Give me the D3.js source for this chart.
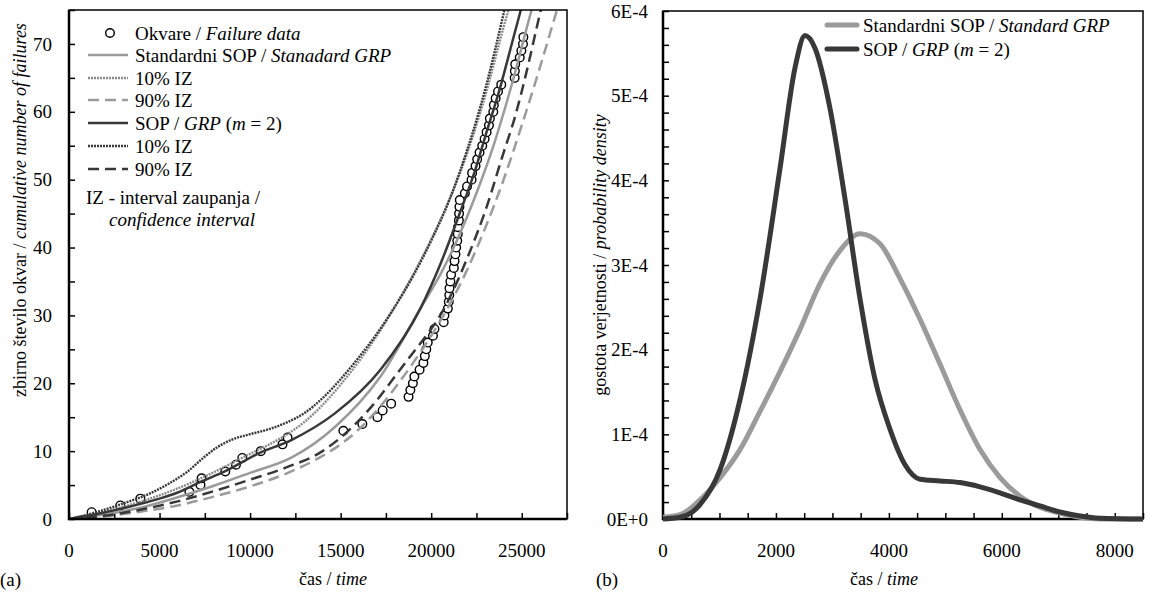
<!DOCTYPE html>
<html>
<head>
<meta charset="utf-8">
<script src="https://cdn.jsdelivr.net/npm/d3@7"></script>
<style>
  body { margin: 0; background: #fff; }
  text { font-family: "Liberation Serif", "Times New Roman", Times, serif; fill: #000; }
</style>
</head>
<body>
<svg id="chart" width="1149" height="600" font-family="Liberation Serif, serif"></svg>
<script>
// ---------- panel (a): cumulative failures ----------
const failT = [1250, 2830, 3940, 6650, 7260, 7320, 8630, 9220, 9570, 10590, 11790, 12070, 15150, 16200, 17030, 17320,
  17790, 18750, 18850, 18990, 19070, 19360, 19570, 19650, 19730, 19810, 20100, 20180, 20690, 20730, 20920, 20970,
  21000, 21010, 21060, 21100, 21250, 21290, 21340, 21380, 21440, 21470, 21480, 21530, 21540, 21560, 21580, 21860,
  21980, 22230, 22260, 22450, 22540, 22670, 22820, 22950, 23060, 23190, 23240, 23430, 23460, 23560, 23690, 23870,
  24610, 24620, 24640, 24890, 24980, 25070, 25090]
const failN = [1, 2, 3, 4, 5, 6, 7, 8, 9, 10, 11, 12, 13, 14, 15, 16, 17, 18, 19, 20, 21, 22, 23, 24, 25, 26, 27, 28,
  29, 30, 31, 32, 33, 34, 35, 36, 37, 38, 39, 40, 41, 42, 43, 44, 45, 46, 47, 48, 49, 50, 51, 52, 53, 54, 55, 56,
  57, 58, 59, 60, 61, 62, 63, 64, 65, 66, 67, 68, 69, 70, 71]

const stdT = [0, 2000, 4000, 6000, 8000, 10000, 12250, 14700, 17200, 19400, 20500, 21500, 22500, 23500, 24500, 25600, 26000]
const stdN = [0, 0.7, 1.7, 3.2, 4.9, 6.8, 9.0, 13.6, 21, 31, 36, 41.5, 48, 55.5, 64.5, 75.5, 79]
const std10T = [0, 2000, 4000, 6000, 8000, 10000, 11000, 12000, 13000, 14000, 15000, 16000, 17000, 18000, 19000, 20000, 21000, 22000, 23000, 24000, 24600]
const std10N = [0, 1.1, 2.6, 4.5, 6.9, 9.6, 10.9, 12.4, 14.3, 16.8, 19.8, 23.2, 27.0, 31.3, 36.0, 41.2, 47.0, 54, 62.5, 72.5, 78]
const std90T = [0, 2000, 4000, 6000, 8000, 10000, 12000, 14000, 15000, 16000, 17000, 18000, 19000, 20000, 21000, 22000, 23000, 24000, 25000, 26000, 27000, 27400]
const std90N = [0, 0.4, 1.1, 2.0, 3.3, 4.8, 6.7, 9.3, 11.0, 13.2, 16.0, 19.3, 23, 27, 31.5, 36.8, 43, 50, 58, 66.5, 75.5, 79]

const grpT = [0, 1500, 3000, 5000, 6000, 7200, 8600, 10500, 12250, 14700, 17200, 19400, 20500, 21500, 22500, 23000, 23800, 24500, 24950, 25300]
const grpN = [0, 0.7, 1.6, 3.0, 3.9, 5.4, 7.0, 9.7, 11.6, 15.6, 22, 31, 37.5, 44.5, 52, 56.5, 63.5, 70.5, 75, 78.5]
const grp10T = [0, 1500, 3000, 4500, 5500, 6500, 7500, 8200, 9000, 10000, 11000, 12000, 13000, 14000, 15000, 16000, 17000, 18000, 19000, 20000, 21000, 22000, 23000, 24000, 24300]
const grp10N = [0, 1.0, 2.3, 3.8, 5.2, 6.9, 9.2, 10.6, 11.7, 12.5, 13.2, 14.2, 15.6, 17.8, 20.6, 23.8, 27.3, 31.3, 35.8, 41, 47, 54.5, 63.5, 74.5, 78]
const grp90T = [0, 2000, 4000, 6000, 8000, 10000, 12000, 14000, 15000, 16000, 17000, 18000, 19000, 20000, 20500, 21000, 22000, 23000, 24000, 24600, 25000, 26050, 26400]
const grp90N = [0, 0.5, 1.4, 2.6, 4.1, 5.8, 7.6, 10, 12, 14.5, 17.5, 21, 24.5, 28, 30, 32.5, 38.5, 45.5, 54, 59, 63, 75, 79]

const xTicksA = [0, 5000, 10000, 15000, 20000, 25000]
const yTicksA = [0, 10, 20, 30, 40, 50, 60, 70]

// ---------- panel (b): probability density ----------
const densStdT = [0, 301, 655, 1009, 1364, 1718, 2072, 2426, 2780, 3134, 3489, 3843, 4197, 4551, 4905, 5259, 5614, 5968, 6322, 6676, 7030, 7385, 7739, 8500]
const densStdV = [0.02e-4, 0.05e-4, 0.225e-4, 0.486e-4, 0.819e-4, 1.27e-4, 1.74e-4, 2.24e-4, 2.78e-4, 3.17e-4, 3.37e-4, 3.25e-4, 2.84e-4, 2.36e-4,
  1.83e-4, 1.29e-4, 0.82e-4, 0.49e-4, 0.27e-4, 0.14e-4, 0.07e-4, 0.02e-4, 0, 0]
const densGrpT = [0, 301, 514, 655, 1009, 1364, 1718, 2072, 2338, 2515, 2692, 2957, 3223, 3489, 3754, 4020, 4286, 4551, 4905, 5259, 5614, 5968, 6322, 6676, 7030, 7385, 7739, 8500]
const densGrpV = [0, 0.02e-4, 0.08e-4, 0.17e-4, 0.58e-4, 1.41e-4, 2.60e-4, 4.14e-4, 5.33e-4, 5.71e-4, 5.56e-4, 4.85e-4, 3.78e-4, 2.60e-4,
  1.65e-4, 1.06e-4, 0.64e-4, 0.47e-4, 0.45e-4, 0.43e-4, 0.38e-4, 0.31e-4, 0.225e-4, 0.154e-4, 0.083e-4, 0.036e-4, 0.01e-4, 0]

const xTicksB = [0, 2000, 4000, 6000, 8000]
const yTicksB = [0, 1e-4, 2e-4, 3e-4, 4e-4, 5e-4, 6e-4]

const LIGHT = "#9b9b9b"
const DARK = "#383838"
const FS = 19

const svg = d3.select("#chart")
const zip = (a, b) => a.map((v, i) => [v, b[i]])

// ================= panel (a) =================
const xA = d3.scaleLinear().domain([0, 27500]).range([69, 567])
const yA = d3.scaleLinear().domain([0, 75]).range([519, 10])

svg.append("clipPath").attr("id", "clipA")
  .append("rect").attr("x", 69).attr("y", 10).attr("width", 498).attr("height", 509)

const gA = svg.append("g")

// inner ticks
gA.append("g").attr("transform", "translate(0,519)")
  .call(d3.axisBottom(xA).tickValues(d3.range(0, 27501, 2500)).tickSize(-6).tickFormat(""))
gA.append("g").attr("transform", "translate(69,0)")
  .call(d3.axisLeft(yA).tickValues(d3.range(0, 76, 5)).tickSize(-6).tickFormat(""))
gA.selectAll(".domain").remove()
gA.selectAll(".tick line").attr("stroke", "#000").attr("stroke-width", 1.5)

// labels
const labA = svg.append("g").attr("font-size", FS)
labA.selectAll(".xl").data(xTicksA).join("text")
  .attr("x", d => xA(d)).attr("y", 557).attr("text-anchor", "middle").text(d => d)
labA.selectAll(".yl").data(yTicksA).join("text")
  .attr("x", 52).attr("y", d => yA(d)).attr("dy", "0.35em").attr("text-anchor", "end").text(d => d)

const lineA = d3.line().x(d => xA(d[0])).y(d => yA(d[1])).curve(d3.curveMonotoneX)

const seriesA = [
  { t: stdT, n: stdN, color: LIGHT, w: 2.5, dash: null },
  { t: std10T, n: std10N, color: "#8a8a8a", w: 2.4, dash: "2,1" },
  { t: std90T, n: std90N, color: LIGHT, w: 2.5, dash: "11,6" },
  { t: grpT, n: grpN, color: DARK, w: 2.5, dash: null },
  { t: grp10T, n: grp10N, color: DARK, w: 2.4, dash: "2,1" },
  { t: grp90T, n: grp90N, color: DARK, w: 2.5, dash: "11,6" }
]

const plotA = svg.append("g").attr("clip-path", "url(#clipA)")

plotA.selectAll("circle").data(zip(failT, failN)).join("circle")
  .attr("cx", d => xA(d[0])).attr("cy", d => yA(d[1])).attr("r", 4.3)
  .attr("fill", "#fff").attr("stroke", "#000").attr("stroke-width", 1.4)

seriesA.forEach(s => {
  plotA.append("path").datum(zip(s.t, s.n))
    .attr("fill", "none").attr("stroke", s.color).attr("stroke-width", s.w)
    .attr("stroke-dasharray", s.dash).attr("d", lineA)
})

// frame
svg.append("rect").attr("x", 69).attr("y", 10).attr("width", 498).attr("height", 509)
  .attr("fill", "none").attr("stroke", "#000").attr("stroke-width", 1.5)
svg.append("path").attr("d", "M69,10V519H567").attr("fill", "none").attr("stroke", "#000").attr("stroke-width", 2.5)

// legend (a)
const legA = svg.append("g").attr("font-size", FS)
const legRows = [
  { y: 33, type: "circle", parts: [["Okvare / ", false], ["Failure data", true]] },
  { y: 55, s: 0, parts: [["Standardni SOP / ", false], ["Stanadard GRP", true]] },
  { y: 78, s: 1, parts: [["10% IZ", false]] },
  { y: 100, s: 2, parts: [["90% IZ", false]] },
  { y: 123, s: 3, parts: [["SOP / ", false], ["GRP", true], [" (", false], ["m", true], [" = 2)", false]] },
  { y: 146, s: 4, parts: [["10% IZ", false]] },
  { y: 169, s: 5, parts: [["90% IZ", false]] }
]
legRows.forEach(r => {
  if (r.type === "circle") {
    legA.append("circle").attr("cx", 110).attr("cy", r.y).attr("r", 4.3)
      .attr("fill", "#fff").attr("stroke", "#000").attr("stroke-width", 1.4)
  } else {
    const s = seriesA[r.s]
    legA.append("line").attr("x1", 88).attr("x2", 128).attr("y1", r.y).attr("y2", r.y)
      .attr("stroke", s.color).attr("stroke-width", s.w).attr("stroke-dasharray", s.dash)
  }
  const t = legA.append("text").attr("x", 135).attr("y", r.y).attr("dy", "0.35em")
  r.parts.forEach(p => t.append("tspan").attr("font-style", p[1] ? "italic" : null).text(p[0]))
})
legA.append("text").attr("x", 86).attr("y", 197).attr("dy", "0.35em").text("IZ - interval zaupanja /")
legA.append("text").attr("x", 109).attr("y", 219).attr("dy", "0.35em").attr("font-style", "italic").text("confidence interval")

// axis titles (a)
const tx = svg.append("text").attr("font-size", 18).attr("text-anchor", "middle")
  .attr("transform", "translate(20,210) rotate(-90)").attr("dy", "0.35em")
tx.append("tspan").text("zbirno število okvar / ")
tx.append("tspan").attr("font-style", "italic").text("cumulative number of failures")
const xtA = svg.append("text").attr("font-size", 18).attr("text-anchor", "middle").attr("x", 333).attr("y", 585)
xtA.append("tspan").text("čas / ")
xtA.append("tspan").attr("font-style", "italic").text("time")
svg.append("text").attr("font-size", FS).attr("x", 0).attr("y", 586).text("(a)")

// ================= panel (b) =================
const xB = d3.scaleLinear().domain([0, 8500]).range([663, 1143])
const yB = d3.scaleLinear().domain([0, 6e-4]).range([519, 11])

const gB = svg.append("g")
gB.append("g").attr("transform", "translate(0,519)")
  .call(d3.axisBottom(xB).tickValues(d3.range(0, 8501, 500)).tickSize(-6).tickFormat(""))
gB.append("g").attr("transform", "translate(663,0)")
  .call(d3.axisLeft(yB).tickValues(d3.range(0, 31).map(i => i * 2e-5)).tickSize(-6).tickFormat(""))
gB.selectAll(".domain").remove()
gB.selectAll(".tick line").attr("stroke", "#000").attr("stroke-width", 1.5)

const labB = svg.append("g").attr("font-size", FS)
labB.selectAll(".xl").data(xTicksB).join("text")
  .attr("x", d => xB(d)).attr("y", 557).attr("text-anchor", "middle").text(d => d)
labB.selectAll(".yl").data(yTicksB).join("text")
  .attr("x", 648).attr("y", d => yB(d)).attr("dy", "0.35em").attr("text-anchor", "end")
  .text(d => d === 0 ? "0E+0" : Math.round(d * 1e4) + "E-4")

svg.append("rect").attr("x", 663).attr("y", 11).attr("width", 480).attr("height", 508)
  .attr("fill", "none").attr("stroke", "#000").attr("stroke-width", 1.5)
svg.append("path").attr("d", "M663,11V519H1143").attr("fill", "none").attr("stroke", "#000").attr("stroke-width", 2.5)

const lineB = d3.line().x(d => xB(d[0])).y(d => yB(d[1])).curve(d3.curveMonotoneX)
const seriesB = [
  { t: densStdT, v: densStdV, color: LIGHT, label: [["Standardni SOP / ", false], ["Standard GRP", true]] },
  { t: densGrpT, v: densGrpV, color: DARK, label: [["SOP / ", false], ["GRP", true], [" (", false], ["m", true], [" = 2)", false]] }
]
seriesB.forEach(s => {
  svg.append("path").datum(zip(s.t, s.v))
    .attr("fill", "none").attr("stroke", s.color).attr("stroke-width", 5)
    .attr("stroke-linejoin", "round").attr("d", lineB)
})

const legB = svg.append("g").attr("font-size", FS)
seriesB.forEach((s, i) => {
  const y = 25 + i * 24
  legB.append("line").attr("x1", 827).attr("x2", 857).attr("y1", y).attr("y2", y)
    .attr("stroke", s.color).attr("stroke-width", 5).attr("stroke-linecap", "round")
  const t = legB.append("text").attr("x", 863).attr("y", y).attr("dy", "0.35em")
  s.label.forEach(p => t.append("tspan").attr("font-style", p[1] ? "italic" : null).text(p[0]))
})

const tyB = svg.append("text").attr("font-size", 18).attr("text-anchor", "middle")
  .attr("transform", "translate(600,255) rotate(-90)").attr("dy", "0.35em")
tyB.append("tspan").text("gostota verjetnosti / ")
tyB.append("tspan").attr("font-style", "italic").text("probability density")
const xtB = svg.append("text").attr("font-size", 18).attr("text-anchor", "middle").attr("x", 884).attr("y", 585)
xtB.append("tspan").text("čas / ")
xtB.append("tspan").attr("font-style", "italic").text("time")
svg.append("text").attr("font-size", FS).attr("x", 596).attr("y", 586).text("(b)")
</script>
</body>
</html>
